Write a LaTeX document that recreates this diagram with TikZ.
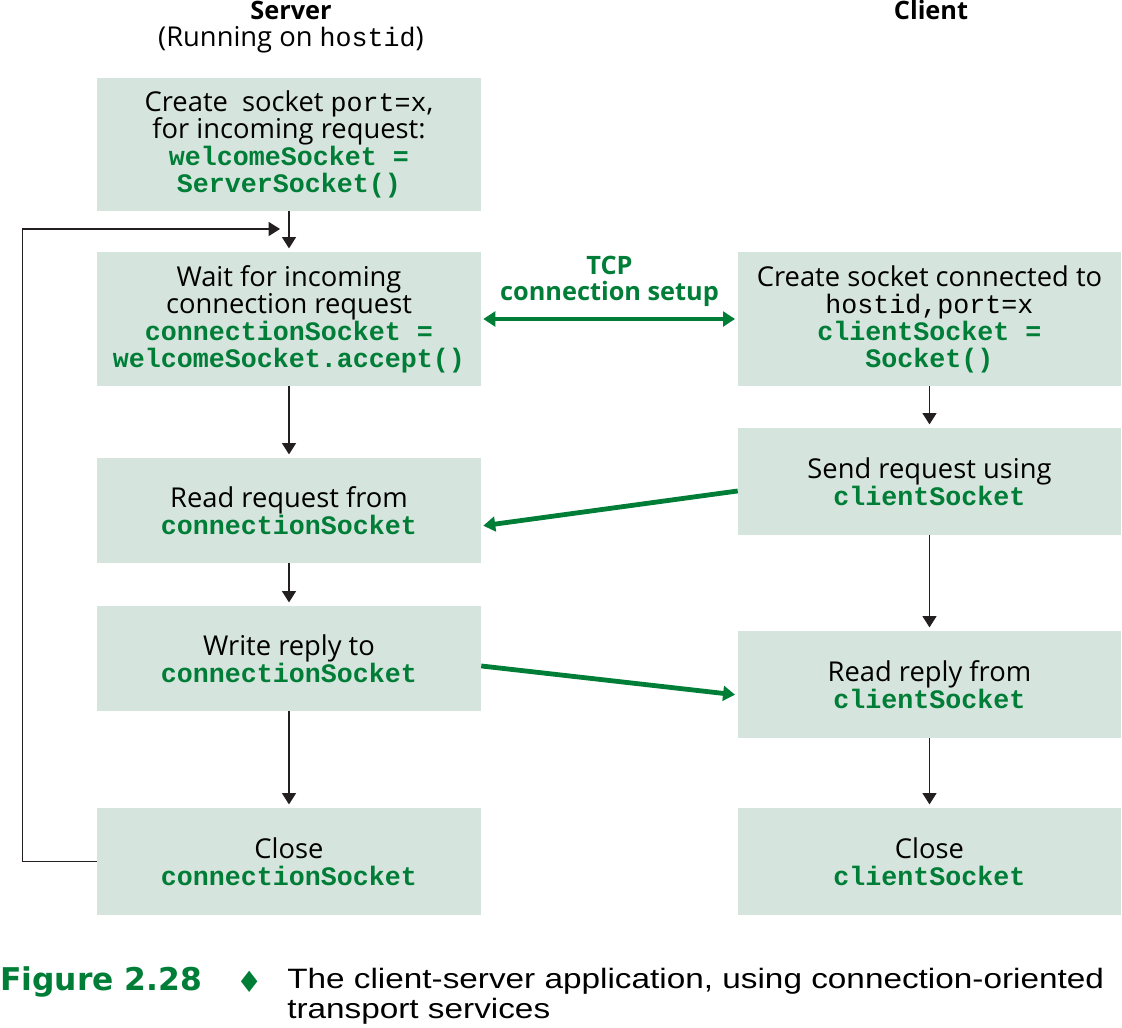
\documentclass[tikz,border=0pt]{standalone}
\usepackage{fontspec}
\setmainfont{Open Sans}
\setmonofont{Liberation Mono}
\newfontfamily\capfont[FakeStretch=1.19]{Liberation Sans}
\newfontfamily\symfont{DejaVu Sans}
\usetikzlibrary{arrows.meta}

\definecolor{codegreen}{RGB}{0,125,55}
\definecolor{boxfill}{RGB}{213,228,220}
\newcommand{\code}[1]{\textcolor{codegreen}{\fontsize{20}{20.25}\selectfont\ttfamily\bfseries #1}}
\newcommand{\mono}[1]{{\fontsize{20}{20.25}\selectfont\ttfamily #1}}

\begin{document}
\begin{tikzpicture}[x=0.75pt,y=0.75pt,yscale=-1,xscale=1,
    stepbox/.style={fill=boxfill, draw=none, align=center, inner sep=0pt,
        font=\fontsize{20.5}{20.25}\selectfont},
    srvbox/.style={stepbox, minimum width=288pt},
    clibox/.style={stepbox, minimum width=287.25pt},
    flow/.style={draw={rgb,255:red,35;green,31;blue,32}, line width=1pt,
        -{Triangle[length=8.5pt,width=10.5pt]}},
    msg/.style={draw=codegreen, line width=3.6pt,
        -{Triangle[length=9pt,width=11pt]}},
    head/.style={font=\fontsize{20.5}{20.25}\selectfont, inner sep=0.75pt}]
        \useasboundingbox (0,0) rectangle (1122,1028);

        % Column headings
        \node [head, font=\fontsize{19}{20.25}\selectfont\bfseries] (srvHead) at (291,10) {Server};
        \node [head] (srvHost) at (291,40) {(Running on \mono{hostid})};
        \node [head, font=\fontsize{19}{20.25}\selectfont\bfseries] (cliHead) at (931,10) {Client};

        % Server side
        \node [srvbox, minimum height=99.75pt] (srvCreate) at (289,144.5)
            {Create\ \ socket \mono{port=x},\\for incoming request:\\\code{welcomeSocket =}\\\code{ServerSocket()}};
        \node [srvbox, minimum height=100.5pt] (srvWait) at (289,319)
            {Wait for incoming\\connection request\\\code{connectionSocket =}\\\code{welcomeSocket.accept()}};
        \node [srvbox, minimum height=78.75pt] (srvRead) at (289,510.5)
            {Read request from\\\code{connectionSocket}};
        \node [srvbox, minimum height=78.75pt] (srvWrite) at (289,658.5)
            {Write reply to\\\code{connectionSocket}};
        \node [srvbox, minimum height=80.25pt] (srvClose) at (289,861.5)
            {Close\\\code{connectionSocket}};

        % Client side
        \node [clibox, minimum height=100.5pt] (cliCreate) at (929.5,319)
            {Create socket connected to\\\mono{hostid,port=x}\\\code{clientSocket =}\\\code{Socket()}};
        \node [clibox, minimum height=80.25pt] (cliSend) at (929.5,481.5)
            {Send request using\\\code{clientSocket}};
        \node [clibox, minimum height=80.25pt] (cliRead) at (929.5,684.5)
            {Read reply from\\\code{clientSocket}};
        \node [clibox, minimum height=80.25pt] (cliClose) at (929.5,861.5)
            {Close\\\code{clientSocket}};

        % Control flow
        \draw [flow, shorten >=2.5pt] (srvCreate) -- (srvWait);
        \draw [flow, shorten >=2.5pt] (srvWait) -- (srvRead);
        \draw [flow, shorten >=2.5pt] (srvRead) -- (srvWrite);
        \draw [flow, shorten >=2.5pt] (srvWrite) -- (srvClose);
        \draw [flow, shorten >=2.5pt] (cliCreate) -- (cliSend);
        \draw [flow, shorten >=2.5pt] (cliSend) -- (cliRead);
        \draw [flow, shorten >=2.5pt] (cliRead) -- (cliClose);
        \coordinate (loopEnd) at (280,229);
        \draw [flow] (srvClose.west) -- ++(-74,0) |- (loopEnd);

        % Messages between server and client
        \draw [msg, {Triangle[length=9pt,width=11pt]}-{Triangle[length=9pt,width=11pt]},
            shorten <=1.5pt, shorten >=2pt] (srvWait.east) -- (cliCreate.west)
            node [midway, above=4pt, align=center, text=codegreen,
                font=\fontsize{19}{19.5}\selectfont\bfseries] (tcpLabel) {TCP\\connection setup};
        \draw [msg, shorten >=1.5pt] ([yshift=7.1pt]cliSend.west) -- ([yshift=11.6pt]srvRead.east);
        \draw [msg, shorten >=2pt] ([yshift=5.6pt]srvWrite.east) -- ([yshift=7.9pt]cliRead.west);

        % Caption
        \node [anchor=west, inner sep=0pt, text=codegreen,
            font=\symfont\fontsize{23.5}{22.5}\selectfont\bfseries] (figNum) at (0,982) {Figure 2.28};
        \node [anchor=center, inner sep=0pt, text=codegreen,
            font=\symfont\fontsize{22}{22}\selectfont] (figMark) at (250,982) {♦};
        \node [anchor=north west, inner sep=0pt, align=left,
            font=\capfont\fontsize{21}{22.5}\selectfont] (figText) at (287,968)
            {The client-server application, using connection-oriented\\transport services};

\end{tikzpicture}
\end{document}
